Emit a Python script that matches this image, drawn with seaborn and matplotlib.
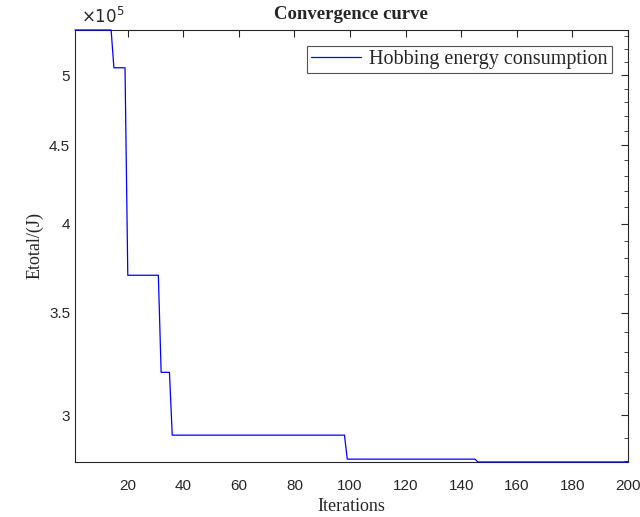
import numpy as np
import pandas as pd
import seaborn as sns
import matplotlib
import matplotlib.pyplot as plt
from matplotlib.ticker import FixedLocator, FuncFormatter, NullFormatter

matplotlib.use("Agg")

# step levels of the best Etotal (J) and how many iterations each lasted
levels = [535000, 505500, 370200, 320000, 291200, 280900, 279700]
counts = [14, 5, 12, 4, 63, 47, 55]

iterations = np.arange(1, sum(counts) + 1)
etotal = np.repeat(levels, counts)
df = pd.DataFrame({"Iterations": iterations, "Etotal": etotal})

major_ticks = [300000, 350000, 400000, 450000, 500000]
minor_ticks = [280000, 290000, 310000, 320000, 330000, 340000, 360000, 370000,
               380000, 390000, 410000, 420000, 430000, 440000, 460000, 470000,
               480000, 490000, 510000, 520000, 530000]
x_ticks = [20, 40, 60, 80, 100, 120, 140, 160, 180, 200]

sns.set_style("white")
plt.rcParams["font.family"] = ["Liberation Sans", "DejaVu Sans"]

fig = plt.figure(figsize=(6.4, 5.17), dpi=100)
ax = fig.add_axes([0.1172, 0.1064, 0.981 - 0.1172, 0.942 - 0.1064])

sns.lineplot(data=df, x="Iterations", y="Etotal", color="#0000ff", lw=0.9,
             label="Hobbing energy consumption", ax=ax, zorder=5)
for ln in ax.get_lines():
    ln.set_clip_on(False)

ax.set_yscale("log")
ax.set_xlim(1, 200)
ax.set_ylim(df["Etotal"].min(), df["Etotal"].max())
ax.yaxis.set_major_locator(FixedLocator(major_ticks))
ax.yaxis.set_minor_locator(FixedLocator(minor_ticks))
ax.yaxis.set_major_formatter(FuncFormatter(lambda v, p: f"{v / 1e5:g}"))
ax.yaxis.set_minor_formatter(NullFormatter())
ax.set_xticks(x_ticks)

ax.tick_params(axis="both", which="both", direction="in", top=True, right=True,
               labelsize=11, labelcolor="#262626", color="#262626")
ax.tick_params(which="major", length=5, width=0.8)
ax.tick_params(which="minor", length=3, width=0.6)
ax.tick_params(axis="x", which="major", pad=12)
for s in ax.spines.values():
    s.set_color("#262626")
    s.set_linewidth(0.8)

serif = ["Liberation Serif", "DejaVu Serif"]
ax.set_xlabel("Iterations", family=serif, fontsize=13, labelpad=4)
ax.set_ylabel("Etotal/(J)", family=serif, fontsize=13, labelpad=4)
ax.set_title("Convergence curve", family=serif, fontsize=13.5, fontweight="bold",
             pad=8)
ax.text(0.01, 1.01, r"$\times10^{5}$", transform=ax.transAxes, fontsize=12,
        color="#262626", ha="left", va="bottom")

leg = ax.legend(loc="upper right", prop={"family": serif, "size": 14.5},
                fancybox=False, frameon=True, borderaxespad=0.8,
                handlelength=2.5, handletextpad=0.4, borderpad=0.2)
leg.get_frame().set_edgecolor("#262626")
leg.get_frame().set_linewidth(0.8)

plt.savefig("out.png", dpi=100)
